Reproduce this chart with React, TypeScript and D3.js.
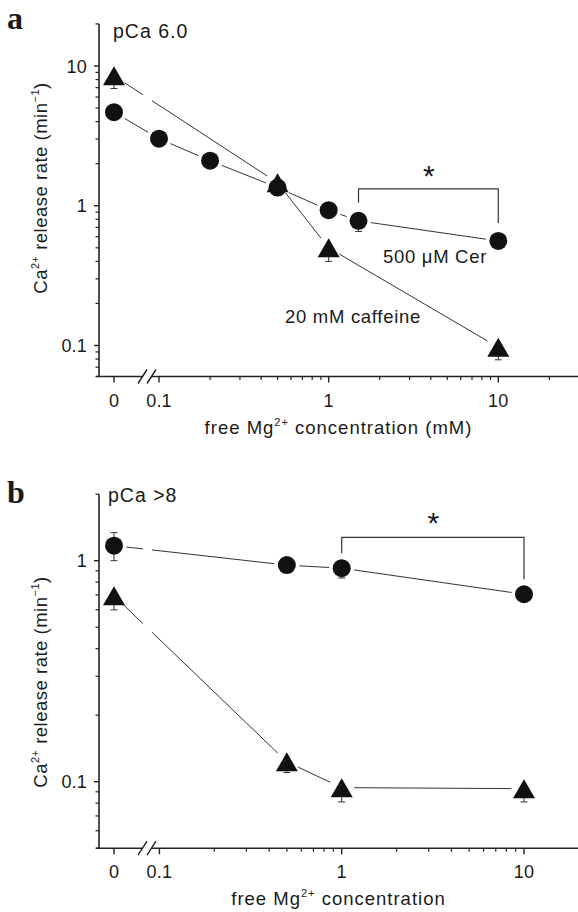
import React from 'react';
import * as d3 from 'd3';

const W = 578;
const H = 912;
const FONT = '"Liberation Sans", Arial, sans-serif';

// panel a (pCa 6.0)
const cerMgA = [0, 0.1, 0.2, 0.5, 1, 1.5, 10];
const cerRateA = [4.67, 3.02, 2.1, 1.35, 0.93, 0.78, 0.56];
const cerErrLoA = [0, 0, 0, 0, 0, 0.125, 0];
const cerErrHiA = [0, 0, 0, 0, 0, 0, 0];
const cafMgA = [0, 0.5, 1, 10];
const cafRateA = [8.5, 1.46, 0.5, 0.097];
const cafErrLoA = [1.6, 0, 0.1, 0.018];
const cafErrHiA = [0, 0, 0, 0];

// panel b (pCa >8)
const cerMgB = [0, 0.5, 1, 10];
const cerRateB = [1.17, 0.955, 0.925, 0.705];
const cerErrLoB = [0.17, 0, 0.09, 0];
const cerErrHiB = [0.17, 0, 0, 0];
const cafMgB = [0, 0.5, 1, 10];
const cafRateB = [0.694, 0.123, 0.094, 0.093];
const cafErrLoB = [0.095, 0.013, 0.013, 0.012];
const cafErrHiB = [0, 0, 0, 0];

const xTickVals = [0, 0.1, 1, 10];
const xTickLabels = ['0', '0.1', '1', '10'];
const yTickValsA = [0.1, 1, 10];
const yTickLabelsA = ['0.1', '1', '10'];
const yTickValsB = [0.1, 1];
const yTickLabelsB = ['0.1', '1'];

// significance brackets: [from Mg, to Mg, level]
const bracketA = [1.5, 10, 1.32];
const bracketB = [1, 10, 1.276];

type Series = { x: number[]; y: number[]; lo: number[]; hi: number[]; shape: 'circle' | 'triangle' };

type PanelProps = {
  letter: string;
  letterY: number;
  title: string;
  titleX: number;
  titleY: number;
  xRange: [number, number];
  yRange: [number, number];
  yDomain: [number, number];
  yMin: number;
  yMax: number;
  yTicks: number[];
  yLabels: string[];
  yLabelCenter: number;
  series: Series[];
  bracket: number[];
  bracketDrop: number;
  starY: number;
  xUnit: string;
  notes: { text: string; x: number; y: number }[];
};

const ZERO_X = 114;
const AXIS_X = 99;
const BREAK_L = 143;
const BREAK_R = 152;
const GAP = 12.5;

const triPath = 'M0,-9.5L11,9.5L-11,9.5Z';

function segments(p1: number[], p2: number[]) {
  const dx = p2[0] - p1[0];
  const dy = p2[1] - p1[1];
  const len = Math.hypot(dx, dy);
  if (len <= 2 * GAP) return [];
  const ux = dx / len;
  const uy = dy / len;
  const a = [p1[0] + ux * GAP, p1[1] + uy * GAP];
  const b = [p2[0] - ux * GAP, p2[1] - uy * GAP];
  if (a[0] < BREAK_L && b[0] > BREAK_R) {
    const t1 = (BREAK_L - a[0]) / (b[0] - a[0]);
    const t2 = (BREAK_R - a[0]) / (b[0] - a[0]);
    const m1 = [BREAK_L, a[1] + (b[1] - a[1]) * t1];
    const m2 = [BREAK_R, a[1] + (b[1] - a[1]) * t2];
    return [[a, m1], [m2, b]];
  }
  if (a[0] >= BREAK_L && a[0] < BREAK_R && b[0] > BREAK_R) {
    const t2 = (BREAK_R - a[0]) / (b[0] - a[0]);
    return [[[BREAK_R, a[1] + (b[1] - a[1]) * t2], b]];
  }
  return [[a, b]];
}

function Panel(p: PanelProps) {
  const x = d3.scaleLog().domain([0.1, 10]).range(p.xRange);
  const y = d3.scaleLog().domain(p.yDomain).range(p.yRange);
  const xp = (v: number) => (v === 0 ? ZERO_X : x(v));
  const yBottom = y(p.yMin);
  const yTop = y(p.yMax);

  const yMinor: number[] = [];
  [0.01, 0.1, 1, 10].forEach((dec) => {
    for (let k = 2; k <= 9; k++) {
      const v = k * dec;
      if (v >= p.yMin - 1e-9 && v <= p.yMax + 1e-9) yMinor.push(v);
    }
  });
  const xMinor: number[] = [];
  [0.1, 1, 10].forEach((dec) => {
    for (let k = 2; k <= 9; k++) {
      const v = k * dec;
      if (x(v) < W - 3) xMinor.push(v);
    }
  });

  const [bx1, bx2, blev] = p.bracket;
  const byLevel = y(blev);
  const yAt = (mg: number) => {
    const s = p.series[0];
    return y(s.y[s.x.indexOf(mg)]);
  };

  return (
    <g fontFamily={FONT} fill="#1a1a1a">
      <text x={7} y={p.letterY} fontFamily='"Liberation Serif", "Times New Roman", serif' fontWeight="bold" fontSize={32}>
        {p.letter}
      </text>
      <text x={p.titleX} y={p.titleY} fontSize={19.5} letterSpacing={1}>{p.title}</text>

      {/* axes */}
      <line x1={AXIS_X} x2={AXIS_X} y1={yTop} y2={yBottom} stroke="#222" strokeWidth={1.6} />
      <line x1={AXIS_X - 3} x2={BREAK_L} y1={yBottom} y2={yBottom} stroke="#222" strokeWidth={1.6} />
      <line x1={BREAK_R} x2={W} y1={yBottom} y2={yBottom} stroke="#222" strokeWidth={1.6} />
      {[BREAK_L, BREAK_R].map((bx) => (
        <line key={bx} x1={bx - 5} x2={bx + 4} y1={yBottom + 7} y2={yBottom - 7} stroke="#222" strokeWidth={1.4} />
      ))}

      {p.yTicks.map((v, i) => (
        <g key={'yt' + v}>
          <line x1={AXIS_X - 5} x2={AXIS_X} y1={y(v)} y2={y(v)} stroke="#222" strokeWidth={1.4} />
          <text x={87} y={y(v) + 6.5} textAnchor="end" fontSize={18} letterSpacing={0.2}>{p.yLabels[i]}</text>
        </g>
      ))}
      {yMinor.map((v) => (
        <line key={'ym' + v} x1={AXIS_X - 3.5} x2={AXIS_X} y1={y(v)} y2={y(v)} stroke="#222" strokeWidth={1.2} />
      ))}
      {xTickVals.map((v, i) => (
        <g key={'xt' + v}>
          <line x1={xp(v)} x2={xp(v)} y1={yBottom} y2={yBottom + 6} stroke="#222" strokeWidth={1.4} />
          <text x={xp(v)} y={yBottom + 30} textAnchor="middle" fontSize={18} letterSpacing={0.2}>{xTickLabels[i]}</text>
        </g>
      ))}
      {xMinor.map((v) => (
        <line key={'xm' + v} x1={x(v)} x2={x(v)} y1={yBottom} y2={yBottom + 3.5} stroke="#222" strokeWidth={1.2} />
      ))}

      {/* axis titles */}
      <text x={338.5} y={yBottom + 57} textAnchor="middle" fontSize={18.5} letterSpacing={1}>
        free Mg<tspan dy={-8} fontSize={11}>2+</tspan>
        <tspan dy={8}>{' concentration' + p.xUnit}</tspan>
      </text>
      <text transform={`translate(47,${p.yLabelCenter}) rotate(-90)`} textAnchor="middle" fontSize={18.5} letterSpacing={0.5}>
        Ca<tspan dy={-8} fontSize={11}>2+</tspan>
        <tspan dy={8}> release rate (min</tspan>
        <tspan dy={-8} fontSize={11}>−1</tspan>
        <tspan dy={8}>)</tspan>
      </text>

      {/* connecting lines */}
      {p.series.map((s, si) => (
        <g key={'l' + si}>
          {s.x.slice(1).map((_, i) =>
            segments([xp(s.x[i]), y(s.y[i])], [xp(s.x[i + 1]), y(s.y[i + 1])]).map((sg, j) => (
              <line key={i + '-' + j} x1={sg[0][0]} y1={sg[0][1]} x2={sg[1][0]} y2={sg[1][1]} stroke="#333" strokeWidth={1} />
            ))
          )}
        </g>
      ))}

      {/* error bars */}
      {p.series.map((s, si) =>
        s.x.map((mg, i) => {
          const cx = xp(mg);
          const cy = y(s.y[i]);
          const parts = [];
          if (s.lo[i]) {
            const lo = y(s.y[i] - s.lo[i]);
            parts.push(<line key="lv" x1={cx} x2={cx} y1={cy} y2={lo} />);
            parts.push(<line key="lc" x1={cx - 3.5} x2={cx + 3.5} y1={lo} y2={lo} />);
          }
          if (s.hi[i]) {
            const hi = y(s.y[i] + s.hi[i]);
            parts.push(<line key="hv" x1={cx} x2={cx} y1={cy} y2={hi} />);
            parts.push(<line key="hc" x1={cx - 3.5} x2={cx + 3.5} y1={hi} y2={hi} />);
          }
          return parts.length ? (
            <g key={'e' + si + '-' + i} stroke="#333" strokeWidth={1}>{parts}</g>
          ) : null;
        })
      )}

      {/* markers */}
      {p.series.map((s, si) =>
        s.x.map((mg, i) =>
          s.shape === 'circle' ? (
            <circle key={'m' + si + '-' + i} cx={xp(mg)} cy={y(s.y[i])} r={9} fill="#111" />
          ) : (
            <path key={'m' + si + '-' + i} d={triPath} transform={`translate(${xp(mg)},${y(s.y[i])})`} fill="#111" />
          )
        )
      )}

      {/* significance bracket */}
      <path
        d={`M${x(bx1)},${yAt(bx1) - p.bracketDrop}V${byLevel}H${x(bx2)}V${yAt(bx2) - p.bracketDrop}`}
        fill="none"
        stroke="#333"
        strokeWidth={1.2}
      />
      <text x={(x(bx1) + x(bx2)) / 2 + 0.5} y={p.starY} textAnchor="middle" fontSize={30}>*</text>

      {p.notes.map((n) => (
        <text key={n.text} x={n.x} y={n.y} fontSize={18.5} letterSpacing={0.7}>{n.text}</text>
      ))}
    </g>
  );
}

export default function App() {
  const seriesA: Series[] = [
    { x: cerMgA, y: cerRateA, lo: cerErrLoA, hi: cerErrHiA, shape: 'circle' },
    { x: cafMgA, y: cafRateA, lo: cafErrLoA, hi: cafErrHiA, shape: 'triangle' },
  ];
  const seriesB: Series[] = [
    { x: cerMgB, y: cerRateB, lo: cerErrLoB, hi: cerErrHiB, shape: 'circle' },
    { x: cafMgB, y: cafRateB, lo: cafErrLoB, hi: cafErrHiB, shape: 'triangle' },
  ];
  return (
    <svg width={W} height={H} style={{ position: 'absolute', left: 0, top: 0, background: '#fff' }}>
      <rect width={W} height={H} fill="#fff" />
      <Panel
        letter="a"
        letterY={29}
        title="pCa 6.0"
        titleX={113}
        titleY={38}
        xRange={[159, 498.3]}
        yRange={[345.5, 66]}
        yDomain={[0.1, 10]}
        yMin={0.06}
        yMax={20}
        yTicks={yTickValsA}
        yLabels={yTickLabelsA}
        yLabelCenter={188}
        series={seriesA}
        bracket={bracketA}
        bracketDrop={18}
        starY={186}
        xUnit=" (mM)"
        notes={[
          { text: '500 μM Cer', x: 383, y: 263 },
          { text: '20 mM caffeine', x: 285, y: 323 },
        ]}
      />
      <Panel
        letter="b"
        letterY={503}
        title="pCa >8"
        titleX={108}
        titleY={502}
        xRange={[159.4, 524]}
        yRange={[781.7, 560.7]}
        yDomain={[0.1, 1]}
        yMin={0.05}
        yMax={2}
        yTicks={yTickValsB}
        yLabels={yTickLabelsB}
        yLabelCenter={682}
        series={seriesB}
        bracket={bracketB}
        bracketDrop={15}
        starY={533}
        xUnit=""
        notes={[]}
      />
    </svg>
  );
}
